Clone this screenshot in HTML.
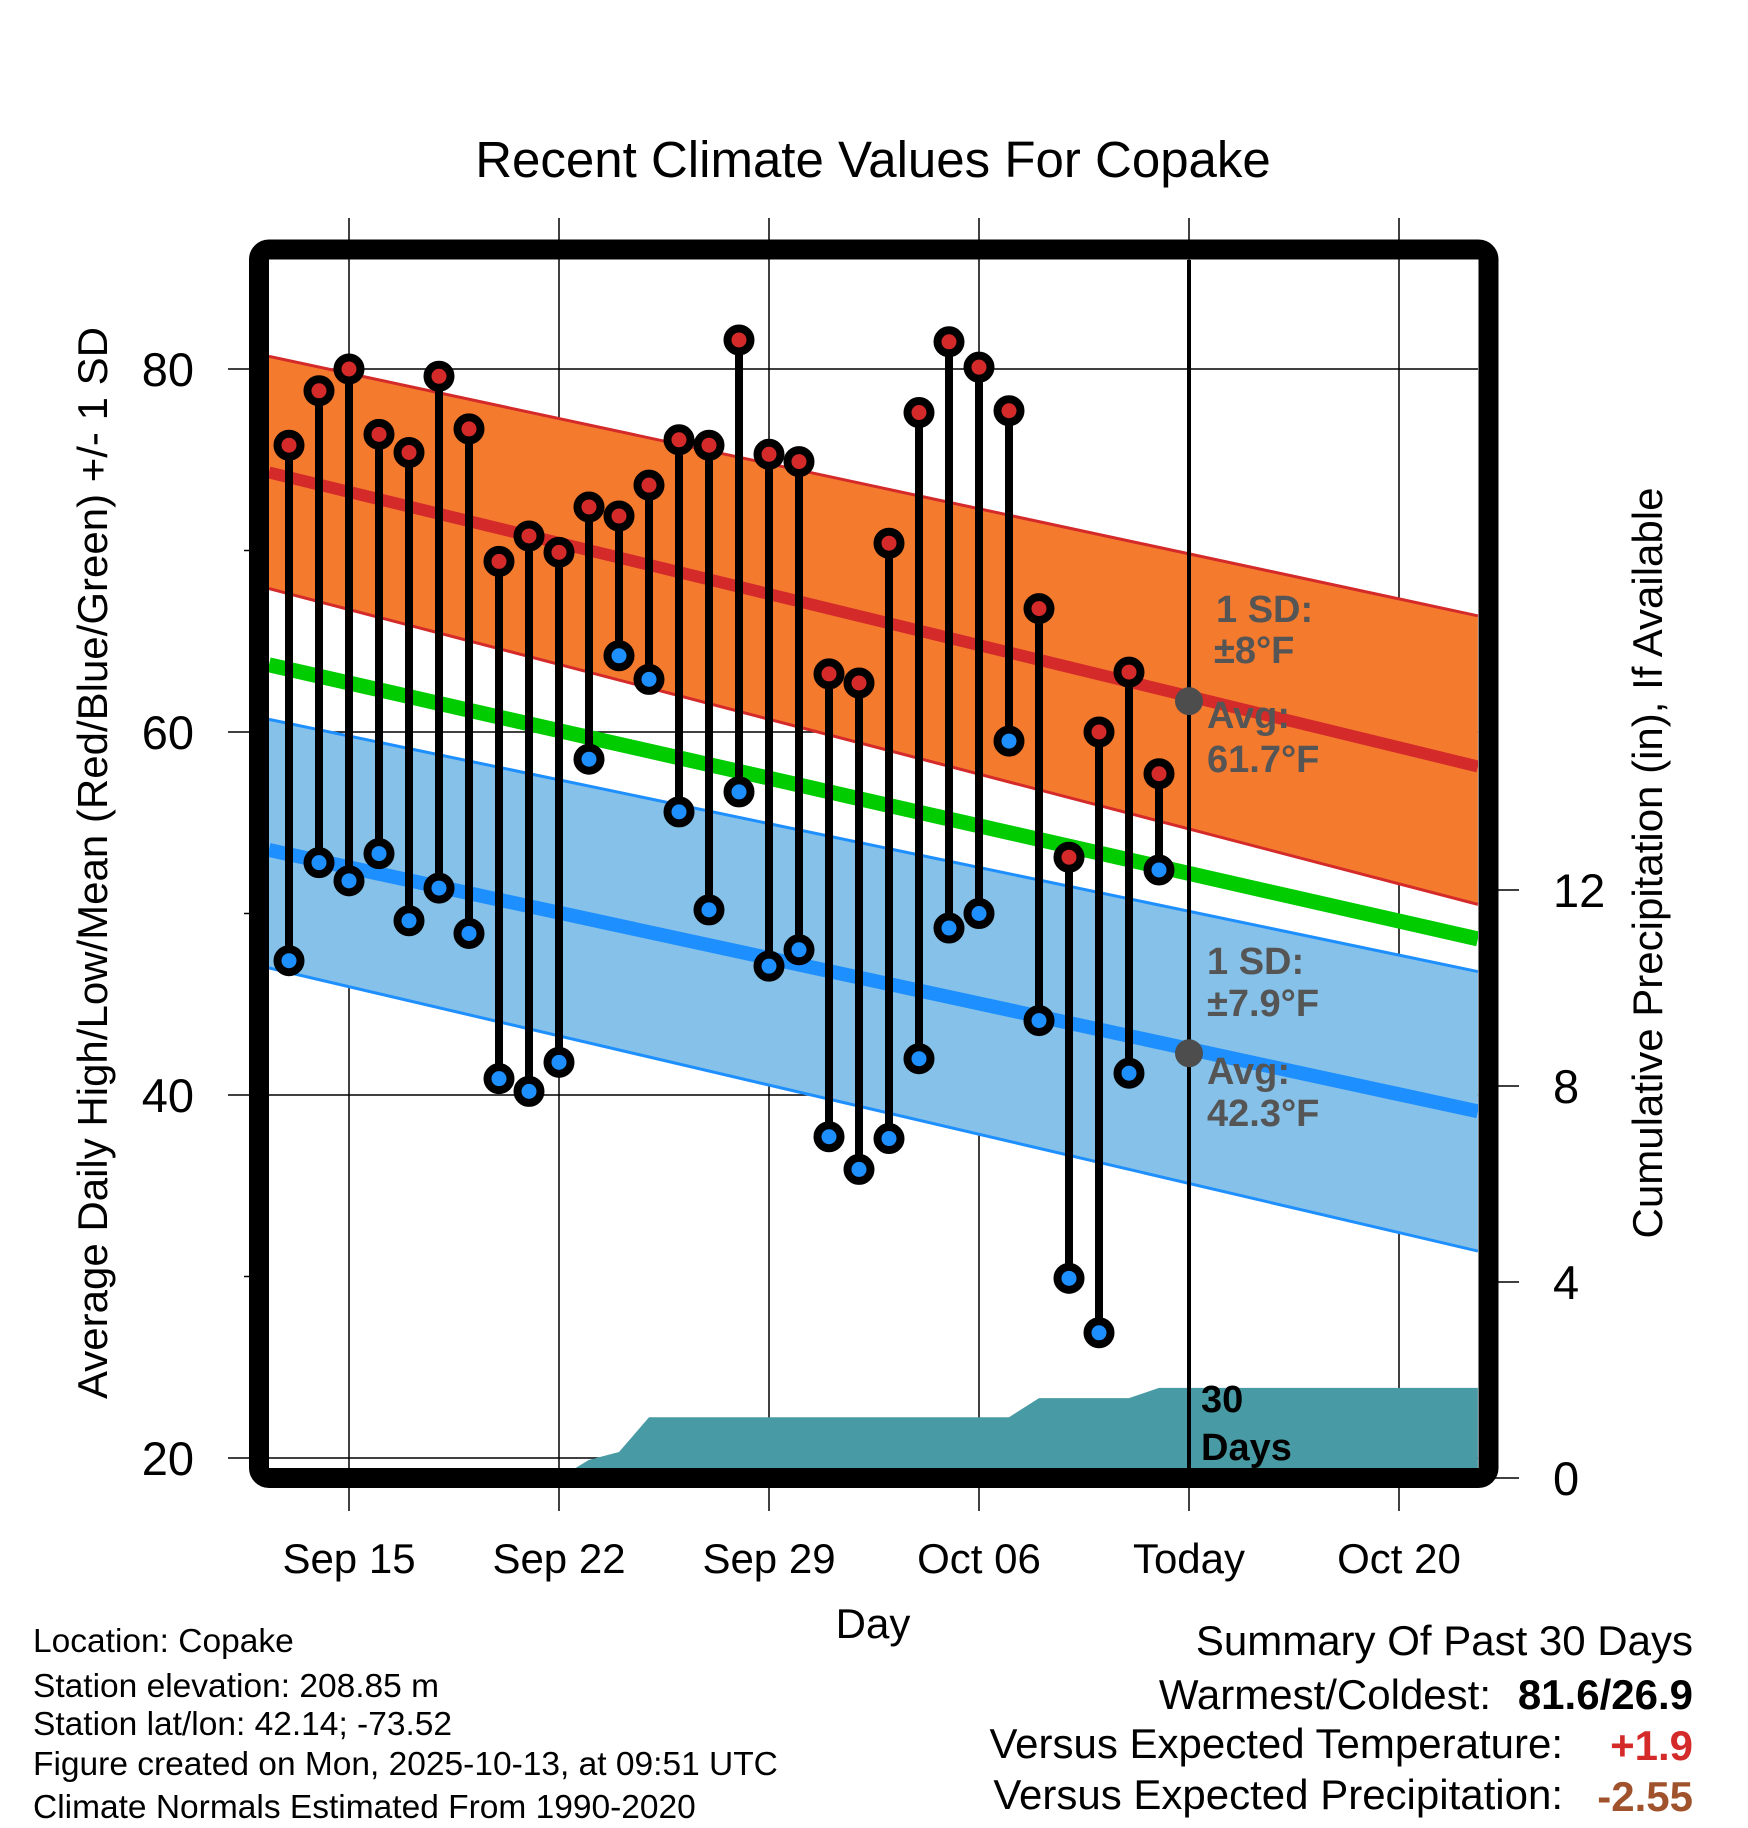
<!DOCTYPE html>
<html><head><meta charset="utf-8">
<style>
html,body{margin:0;padding:0;background:#fff;}
svg{display:block;font-family:"Liberation Sans",Arial,sans-serif;}
</style></head>
<body>
<svg id="chart" width="1748" height="1828" viewBox="0 0 1748 1828" xmlns="http://www.w3.org/2000/svg">
<defs><clipPath id="plotclip"><rect x="269" y="260" width="1209" height="1208"/></clipPath></defs>
<text x="873" y="177" text-anchor="middle" font-size="51">Recent Climate Values For Copake</text>
<g id="grid"></g>
<g id="plot" clip-path="url(#plotclip)"></g>
<g id="overlay"></g>
<rect x="259" y="249.5" width="1229.5" height="1228.5" rx="10" fill="none" stroke="#000" stroke-width="20"/>
<g id="axes"></g>
<text transform="translate(107,863) rotate(-90)" text-anchor="middle" font-size="42">Average Daily High/Low/Mean (Red/Blue/Green) +/- 1 SD</text>
<text transform="translate(1662,863) rotate(-90)" text-anchor="middle" font-size="42">Cumulative Precipitation (in), If Available</text>
<text x="873" y="1638" text-anchor="middle" font-size="42">Day</text>
<g font-size="33.5">
<text x="33" y="1652">Location: Copake</text>
<text x="33" y="1697">Station elevation: 208.85 m</text>
<text x="33" y="1735">Station lat/lon: 42.14; -73.52</text>
<text x="33" y="1775">Figure created on Mon, 2025-10-13, at 09:51 UTC</text>
<text x="33" y="1818">Climate Normals Estimated From 1990-2020</text>
</g>
<g font-size="42">
<text x="1693" y="1655" text-anchor="end">Summary Of Past 30 Days</text>
<text x="1491" y="1709" text-anchor="end">Warmest/Coldest:</text>
<text x="1693" y="1709" text-anchor="end" font-weight="bold">81.6/26.9</text>
<text x="1563" y="1758" text-anchor="end">Versus Expected Temperature:</text>
<text x="1693" y="1760" text-anchor="end" font-weight="bold" fill="#d42a2a">+1.9</text>
<text x="1563" y="1809" text-anchor="end">Versus Expected Precipitation:</text>
<text x="1693" y="1811" text-anchor="end" font-weight="bold" fill="#a0522d">-2.55</text>
</g>
<script>
// day index 0 = Sep 13
const highs = [75.8,78.8,80.0,76.4,75.4,79.6,76.7,69.4,70.8,69.9,72.4,71.9,73.6,76.1,75.8,81.6,75.3,74.9,63.2,62.7,70.4,77.6,81.5,80.1,77.7,66.8,53.1,60.0,63.3,57.7];
const lows = [47.4,52.8,51.8,53.3,49.6,51.4,48.9,40.9,40.2,41.8,58.5,64.2,62.9,55.6,50.2,56.7,47.1,48.0,37.7,35.9,37.6,42.0,49.2,50.0,59.5,44.1,29.9,26.9,41.2,52.4];
const precip = [0,0,0,0,0,0,0,0,0,0,0.37,0.53,1.24,1.24,1.24,1.24,1.24,1.24,1.24,1.24,1.24,1.24,1.24,1.24,1.24,1.63,1.63,1.63,1.63,1.84];
// normals at left and right domain edges
const normHighMean = [74.3,58.1];
const normHighUpper = [80.7,66.4];
const normHighLower = [67.9,50.5];
const normMean = [63.7,48.6];
const normLowMean = [53.5,39.1];
const normLowUpper = [60.7,46.8];
const normLowLower = [47.0,31.4];
const xTickDays = [2,9,16,23,30,37];
const xTickLabels = ["Sep 15","Sep 22","Sep 29","Oct 06","Today","Oct 20"];
const yTicks = [20,40,60,80];
const yMinor = [30,50,70];
const pTicks = [0,4,8,12];
const todayIdx = 30;
const todayHighAvg = 61.7, todayLowAvg = 42.3;

const NS="http://www.w3.org/2000/svg";
const D0=-0.667, D1=39.63;
function X(d){return 289+30*d;}
function Y(t){return 1458-(t-20)*18.15;}
function YP(p){return 1478-p*49;}
function mk(tag,attrs,parent){const e=document.createElementNS(NS,tag);for(const k in attrs)e.setAttribute(k,attrs[k]);parent.appendChild(e);return e;}
const grid=document.getElementById('grid'),plot=document.getElementById('plot'),axes=document.getElementById('axes'),overlay=document.getElementById('overlay');

xTickDays.forEach((d,i)=>{
  const l=mk('line',{x1:X(d),x2:X(d),y1:218,y2:1511,stroke:'#000','stroke-width':1.5},grid);
  
  
  const t=mk('text',{x:X(d),y:1573,'text-anchor':'middle','font-size':42},axes);
  t.textContent=xTickLabels[i];
  
  
});
yTicks.forEach(v=>{
  const l=mk('line',{x1:228,x2:1478,y1:Y(v),y2:Y(v),stroke:'#000','stroke-width':1.5},grid);
  
  
  const t=mk('text',{x:194,y:Y(v)+17,'text-anchor':'end','font-size':47},axes);
  t.textContent=v;
  
  
});
yMinor.forEach(v=>{
  const l=mk('line',{x1:244,x2:260,y1:Y(v),y2:Y(v),stroke:'#000','stroke-width':1.5},axes);
  
  
});
pTicks.forEach(v=>{
  const l=mk('line',{x1:1490,x2:1519,y1:YP(v),y2:YP(v),stroke:'#000','stroke-width':1.5},axes);
  
  
  const t=mk('text',{x:1553,y:YP(v)+17,'font-size':47},axes);
  t.textContent=v;
  
  
});

function band(up,lo,fill,edge,name){
  const pts=`${X(D0)},${Y(up[0])} ${X(D1)},${Y(up[1])} ${X(D1)},${Y(lo[1])} ${X(D0)},${Y(lo[0])}`;
  const p=mk('polygon',{points:pts,fill:fill},plot);
  
  
  [up,lo].forEach(a=>{
    const l=mk('line',{x1:X(D0),y1:Y(a[0]),x2:X(D1),y2:Y(a[1]),stroke:edge,'stroke-width':3},plot);
    
    
  });
}
band(normHighUpper,normHighLower,'#f47a2e','#d42a2a','high-sd-band');
band(normLowUpper,normLowLower,'#85c1e8','#1e8fff','low-sd-band');
function meanLine(a,color,w,name){
  const l=mk('line',{x1:X(D0),y1:Y(a[0]),x2:X(D1),y2:Y(a[1]),stroke:color,'stroke-width':w},plot);
  
  
}
meanLine(normHighMean,'#d42a2a',12,'high-mean-line');
meanLine(normMean,'#00cc00',15,'mean-line');
meanLine(normLowMean,'#1e8fff',14,'low-mean-line');

let pp=`${X(0)},${YP(0)} `;
precip.forEach((v,i)=>{pp+=`${X(i)},${YP(v)} `;});
pp+=`${X(D1)},${YP(precip[precip.length-1])} ${X(D1)},${YP(0)}`;
const pr=mk('polygon',{points:pp,fill:'#489ba4'},plot);



const tl=mk('line',{x1:X(todayIdx),x2:X(todayIdx),y1:260,y2:1468,stroke:'#000','stroke-width':4},overlay);



highs.forEach((h,i)=>{
  const s=mk('line',{x1:X(i),x2:X(i),y1:Y(h),y2:Y(lows[i]),stroke:'#000','stroke-width':8},overlay);
  
  
});
highs.forEach((h,i)=>{
  const c=mk('circle',{cx:X(i),cy:Y(h),r:11.5,fill:'#d42a2a',stroke:'#000','stroke-width':8},overlay);
  
  
  const c2=mk('circle',{cx:X(i),cy:Y(lows[i]),r:11.5,fill:'#1e8fff',stroke:'#000','stroke-width':8},overlay);
  
  
});
[todayHighAvg,todayLowAvg].forEach(v=>{
  const c=mk('circle',{cx:X(todayIdx),cy:Y(v),r:14,fill:'#4d4d4d'},overlay);
  
  
});

const ann=[["1 SD:",1216,622,'#555','high-sd-label'],["±8°F",1214,663,'#555','high-sd-value'],
["Avg:",1207,728,'#555','high-avg-label'],["61.7°F",1207,772,'#555','high-avg-value'],
["1 SD:",1207,974,'#555','low-sd-label'],["±7.9°F",1207,1016,'#555','low-sd-value'],
["Avg:",1207,1084,'#555','low-avg-label'],["42.3°F",1207,1126,'#555','low-avg-value'],
["30",1201,1412,'#000','precip-days-number'],["Days",1201,1460,'#000','precip-days-label']];
ann.forEach(a=>{
  const t=mk('text',{x:a[1],y:a[2],fill:a[3],'font-size':38,'font-weight':'bold'},overlay);
  t.textContent=a[0];
  
  
});
</script>
</svg>
</body></html>
